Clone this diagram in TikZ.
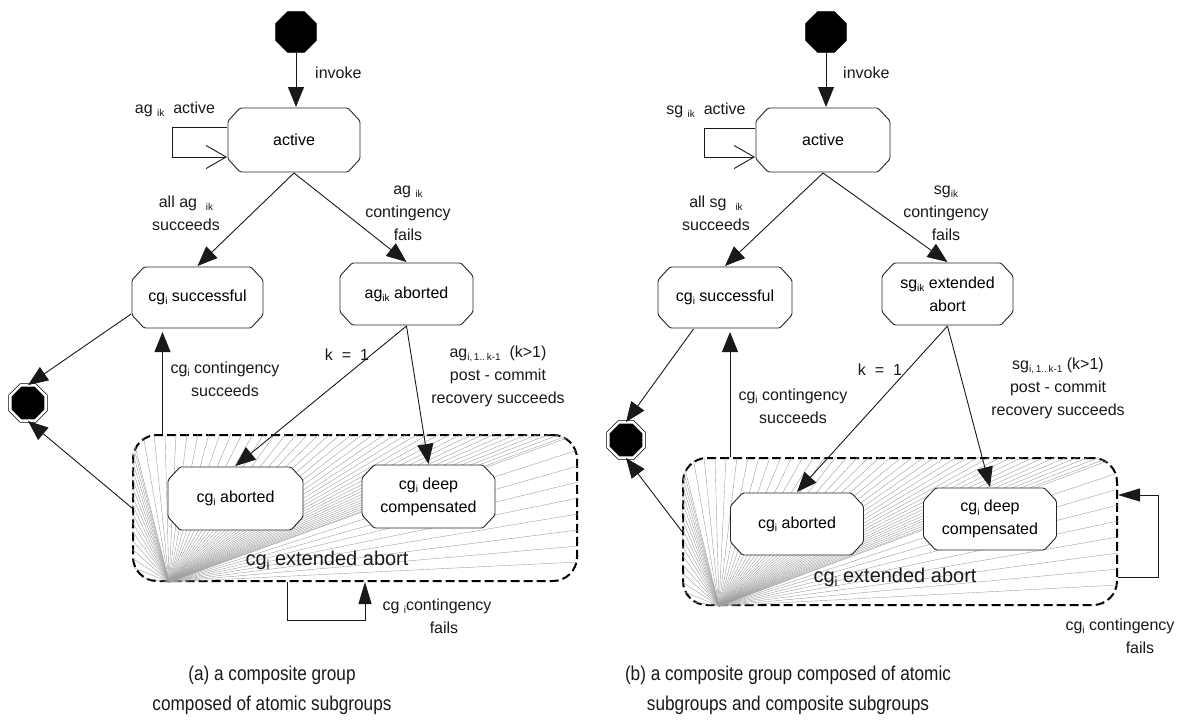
\documentclass[tikz,border=0pt]{standalone}
\usepackage{fontspec}
\setmainfont{Liberation Sans}
\newfontfamily\capfont[FakeStretch=0.86]{Liberation Sans}
\usetikzlibrary{arrows.meta,shapes.geometric,calc}

% small lowered index text
\newcommand\subtxt[1]{\raisebox{-0.4ex}{\fontsize{10}{10}\selectfont #1}}
\newcommand\bigsub[1]{\raisebox{-0.4ex}{\fontsize{13}{13}\selectfont #1}}

\tikzset{
  % state box: octagon with short corner cuts, drawn inside the node frame
  state/.style={rectangle, inner sep=0pt, outer sep=0pt, align=center,
    font=\fontsize{16}{23}\selectfont,
    path picture={
      \path[draw=black!85, line width=0.9pt, fill=white, rounded corners=1.5pt]
        ([xshift=13pt,yshift=-1pt]path picture bounding box.north west)
     -- ([xshift=-13pt,yshift=-1pt]path picture bounding box.north east)
     -- ([xshift=-1pt,yshift=-14pt]path picture bounding box.north east)
     -- ([xshift=-1pt,yshift=14pt]path picture bounding box.south east)
     -- ([xshift=-13pt,yshift=1pt]path picture bounding box.south east)
     -- ([xshift=13pt,yshift=1pt]path picture bounding box.south west)
     -- ([xshift=1pt,yshift=14pt]path picture bounding box.south west)
     -- ([xshift=1pt,yshift=-14pt]path picture bounding box.north west)
     -- cycle;}},
  startst/.style={regular polygon, regular polygon sides=8,
    minimum size=44pt, fill=black, draw=black, inner sep=0pt},
  final/.style={regular polygon, regular polygon sides=8, minimum size=38pt,
    fill=black, draw=black, double=white, double distance=2.5pt,
    line width=0.8pt, inner sep=0pt},
  extbox/.style={rectangle, rounded corners=24pt, draw=black,
    line width=2pt, dash pattern=on 9pt off 4pt, inner sep=0pt},
  fan/.style={draw=black!38, line width=0.4pt},
  arr/.style={draw=black!90, line width=0.9pt,
    -{Triangle[length=20pt,width=16pt]}},
  loopf/.style={draw=black!90, line width=0.9pt,
    -{Triangle[length=22pt,width=13pt]}},
  loopo/.style={draw=black!90, line width=0.9pt,
    -{Straight Barb[length=20pt,width=23pt,line width=0.9pt]}},
  lab/.style={font=\fontsize{16}{23}\selectfont, align=center,
    inner sep=0pt, text=black!90},
  biglab/.style={font=\fontsize{20}{24}\selectfont, inner sep=0pt,
    text=black!90},
  caplab/.style={font=\capfont\fontsize{20}{30}\selectfont, align=center,
    inner sep=0pt, text=black!90}
}

\begin{document}
\begin{tikzpicture}[x=1pt,y=-1pt]
\useasboundingbox (0,0) rectangle (1183,725);

% ---------------- (a) composite group of atomic subgroups ----------------
\node[startst] (s1) at (296,32) {};
\node[state, minimum width=134pt, minimum height=66pt] (act1) at (294,140) {active};
\node[state, minimum width=133pt, minimum height=63pt] (succ1) at (197.5,297.5) {cg\subtxt{i} successful};
\node[state, minimum width=135pt, minimum height=64pt] (abag1) at (406.5,294) {ag\subtxt{ik} aborted};
\node[final] (fin1) at (28,403) {};
\node[extbox, minimum width=444pt, minimum height=146pt] (ext1) at (355,508) {};

% shading strokes of the extended-abort region
\begin{scope}
  \clip[rounded corners=24pt] (ext1.north west) rectangle (ext1.south east);
  \coordinate (fo1) at ($(ext1.south west)+(37,0)$);
  \foreach \t in {6,15,...,146} \draw[fan] (fo1) -- ($(ext1.south west)+(0,-\t)$);
  \foreach \t in {0,11,...,444} \draw[fan] (fo1) -- ($(ext1.north west)+(\t,0)$);
  \foreach \t in {0,16,...,130} \draw[fan] (fo1) -- ($(ext1.north east)+(0,\t)$);
\end{scope}

\node[state, minimum width=137pt, minimum height=65pt] (cgab1) at (235.5,498.5) {cg\subtxt{i} aborted};
\node[state, minimum width=135pt, minimum height=65pt] (deep1) at (428.5,496.5) {cg\subtxt{i} deep\\compensated};
\node[biglab] (extl1) at (327,560) {cg\bigsub{i} extended abort};

\draw[arr] (s1.south) -- (s1.south |- act1.north);
\node[lab, anchor=west] (inv1) at (315,73) {invoke};
\draw[loopo] ($(act1.west)+(0,-13)$) -- ++(-55,0) |- ($(act1.west)+(0,17)$);
\node[lab] (actl1) at (175,109) {ag\ \subtxt{ik}\ \ active};

\draw[arr] (act1.south) -- (succ1.north);
\draw[arr] (act1.south) -- (abag1.north);
\node[lab] (l11) at (186,213) {all ag\ \ \subtxt{ik}\\succeeds};
\node[lab] (l12) at (408,213) {ag\ \subtxt{ik}\\contingency\\fails};

\draw[arr] (succ1.194) -- (fin1.north);
\draw[arr] (ext1.west) -- (fin1.south);
\coordinate (u1) at ($(succ1.south)+(-35,3)$);
\draw[arr] (ext1.north -| u1) -- (u1);
\node[lab] (l13) at (225,379) {cg\subtxt{i} contingency\\succeeds};

\draw[arr] (abag1.south) -- (cgab1.north);
\draw[arr] (abag1.south) -- (deep1.north);
\node[lab] (l14) at (347,355) {k \ = \ 1};
\node[lab] (l15) at (498,376) {ag\subtxt{i,\,1..\,k-1}\ \ (k>1)\\post - commit\\recovery succeeds};

\draw[loopf] ($(ext1.south)+(-68,0)$) -- ++(0,38) -| ($(ext1.south)+(10,0)$);
\node[lab] (l16) at (437,616) {cg \subtxt{i}contingency\\\hspace*{14pt}fails};

% ------------- (b) composite group of atomic and composite subgroups -------------
\node[startst] (s2) at (826,32) {};
\node[state, minimum width=136pt, minimum height=66pt] (act2) at (823,140) {active};
\node[state, minimum width=136pt, minimum height=63pt] (succ2) at (725,297.5) {cg\subtxt{i} successful};
\node[state, minimum width=133pt, minimum height=64pt] (sgab2) at (947.5,294) {sg\subtxt{ik} extended\\abort};
\node[final] (fin2) at (626,440) {};
\node[extbox, minimum width=434pt, minimum height=147pt] (ext2) at (900,531.5) {};

\begin{scope}
  \clip[rounded corners=24pt] (ext2.north west) rectangle (ext2.south east);
  \coordinate (fo2) at ($(ext2.south west)+(37,0)$);
  \foreach \t in {6,15,...,147} \draw[fan] (fo2) -- ($(ext2.south west)+(0,-\t)$);
  \foreach \t in {0,11,...,434} \draw[fan] (fo2) -- ($(ext2.north west)+(\t,0)$);
  \foreach \t in {0,16,...,130} \draw[fan] (fo2) -- ($(ext2.north east)+(0,\t)$);
\end{scope}

\node[state, minimum width=135pt, minimum height=64pt] (cgab2) at (797,524) {cg\subtxt{i} aborted};
\node[state, minimum width=135pt, minimum height=64pt] (deep2) at (990,519) {cg\subtxt{i} deep\\compensated};
\node[biglab] (extl2) at (895,577) {cg\bigsub{i} extended abort};

\draw[arr] (s2.south) -- (s2.south |- act2.north);
\node[lab, anchor=west] (inv2) at (843,73) {invoke};
\draw[loopo] ($(act2.west)+(0,-12)$) -- ++(-51,0) |- ($(act2.west)+(0,17)$);
\node[lab] (actl2) at (706,110) {sg\ \subtxt{ik}\ \ active};

\draw[arr] (act2.south) -- (succ2.north);
\draw[arr] (act2.south) -- (sgab2.north);
\node[lab] (l21) at (716,213) {all sg\ \ \subtxt{ik}\\succeeds};
\node[lab] (l22) at (946,213) {sg\subtxt{ik}\\contingency\\fails};

\draw[arr] (succ2.225) -- (fin2.north);
\draw[arr] (ext2.west) -- (fin2.south);
\coordinate (u2) at ($(succ2.south)+(5,3)$);
\draw[arr] (ext2.north -| u2) -- (u2);
\node[lab] (l23) at (793,406) {cg\subtxt{i} contingency\\succeeds};

\draw[arr] (sgab2.south) -- (cgab2.north);
\draw[arr] (sgab2.south) -- (deep2.north);
\node[lab] (l24) at (880,370) {k \ = \ 1};
\node[lab] (l25) at (1058,388) {sg\subtxt{i,\,1..\,k-1}\ (k>1)\\post - commit\\recovery succeeds};

\draw[loopf] ($(ext2.east)+(0,45.5)$) -- ++(40,0) |- ($(ext2.east)+(0,-36.5)$);
\node[lab] (l26) at (1120,636) {cg\subtxt{i} contingency\\\hspace*{40pt}fails};

% captions
\node[caplab] (cap1) at (272,690) {(a) a composite group\\composed of atomic subgroups};
\node[caplab] (cap2) at (788,690) {(b) a composite group composed of atomic\\subgroups and composite subgroups};
\end{tikzpicture}
\end{document}
